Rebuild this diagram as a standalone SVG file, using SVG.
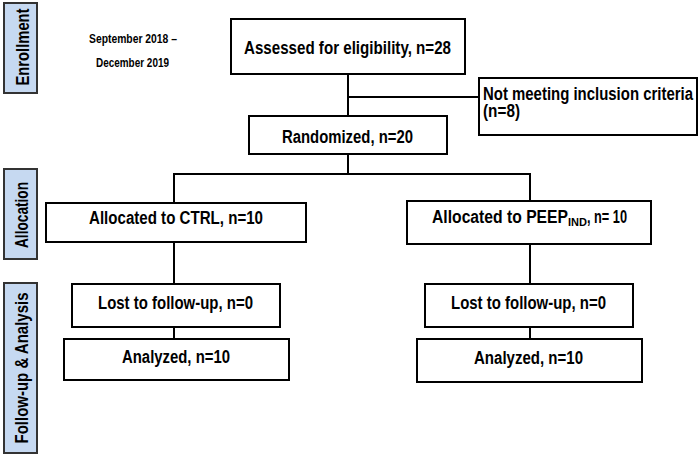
<svg xmlns="http://www.w3.org/2000/svg" width="699" height="455" viewBox="0 0 699 455">
<style>
.box{fill:#fff;stroke:#000;stroke-width:2}
.side{fill:#c6d9f1;stroke:#333;stroke-width:2}
.t{font-family:"Liberation Sans",Arial,sans-serif;font-weight:bold;font-size:17.5px;fill:#000}
.st{font-family:"Liberation Sans",Arial,sans-serif;font-weight:bold;font-size:18px;fill:#000}
.d{font-family:"Liberation Sans",Arial,sans-serif;font-weight:bold;font-size:13.5px;fill:#000}
.c{fill:none;stroke:#000;stroke-width:2}
</style>
<rect width="699" height="455" fill="#fff"/>
<g id="side-enrollment">
<rect class="side" x="4" y="3" width="33" height="90"/>
<text class="st" transform="translate(28.5,47) rotate(-90)" text-anchor="middle" textLength="77" lengthAdjust="spacingAndGlyphs">Enrollment</text>
</g>
<g id="side-allocation">
<rect class="side" x="4" y="169" width="33" height="90"/>
<text class="st" transform="translate(28,215) rotate(-90)" text-anchor="middle" textLength="66" lengthAdjust="spacingAndGlyphs">Allocation</text>
</g>
<g id="side-followup">
<rect class="side" x="4" y="283" width="33" height="170"/>
<text class="st" transform="translate(28,368) rotate(-90)" text-anchor="middle" textLength="151" lengthAdjust="spacingAndGlyphs">Follow-up &amp; Analysis</text>
</g>
<g id="date">
<text class="d" x="89" y="43" textLength="88" lengthAdjust="spacingAndGlyphs">September 2018 –</text>
<text class="d" x="96" y="67" textLength="73" lengthAdjust="spacingAndGlyphs">December 2019</text>
</g>
<g id="connectors">
<path class="c" d="M348 74V116M348 97H479M348 154V174M173 174H531M174 174V203M530 174V201M174 242V284M174 327V339M530 244V284M530 327V339"/>
</g>
<g id="assessed">
<rect class="box" x="231" y="19" width="234" height="55"/>
<text class="t" x="244" y="54" textLength="207" lengthAdjust="spacingAndGlyphs">Assessed for eligibility, n=28</text>
</g>
<g id="excluded">
<rect class="box" x="479" y="78" width="218" height="57"/>
<text class="t" x="483" y="100" textLength="210" lengthAdjust="spacingAndGlyphs">Not meeting inclusion criteria</text>
<text class="t" x="483" y="117" textLength="37" lengthAdjust="spacingAndGlyphs">(n=8)</text>
</g>
<g id="randomized">
<rect class="box" x="249" y="116" width="198" height="38"/>
<text class="t" x="282" y="143" textLength="131" lengthAdjust="spacingAndGlyphs">Randomized, n=20</text>
</g>
<g id="alloc-ctrl">
<rect class="box" x="46" y="203" width="260" height="39"/>
<text class="t" x="89" y="224" textLength="174" lengthAdjust="spacingAndGlyphs">Allocated to CTRL, n=10</text>
</g>
<g id="alloc-peep">
<rect class="box" x="407" y="201" width="244" height="43"/>
<text class="t" x="432" y="223"><tspan textLength="136" lengthAdjust="spacingAndGlyphs">Allocated to PEEP</tspan><tspan font-size="10.5" dy="3" textLength="19" lengthAdjust="spacingAndGlyphs">IND</tspan><tspan dy="-3" textLength="40" lengthAdjust="spacingAndGlyphs">, n= 10</tspan></text>
</g>
<g id="lost-ctrl">
<rect class="box" x="72" y="284" width="208" height="43"/>
<text class="t" x="98" y="309" textLength="155" lengthAdjust="spacingAndGlyphs">Lost to follow-up, n=0</text>
</g>
<g id="analyzed-ctrl">
<rect class="box" x="64" y="339" width="225" height="41"/>
<text class="t" x="122" y="363" textLength="108" lengthAdjust="spacingAndGlyphs">Analyzed, n=10</text>
</g>
<g id="lost-peep">
<rect class="box" x="425" y="284" width="208" height="43"/>
<text class="t" x="451" y="309" textLength="155" lengthAdjust="spacingAndGlyphs">Lost to follow-up, n=0</text>
</g>
<g id="analyzed-peep">
<rect class="box" x="417" y="339" width="225" height="43"/>
<text class="t" x="474" y="364" textLength="109" lengthAdjust="spacingAndGlyphs">Analyzed, n=10</text>
</g>
</svg>
